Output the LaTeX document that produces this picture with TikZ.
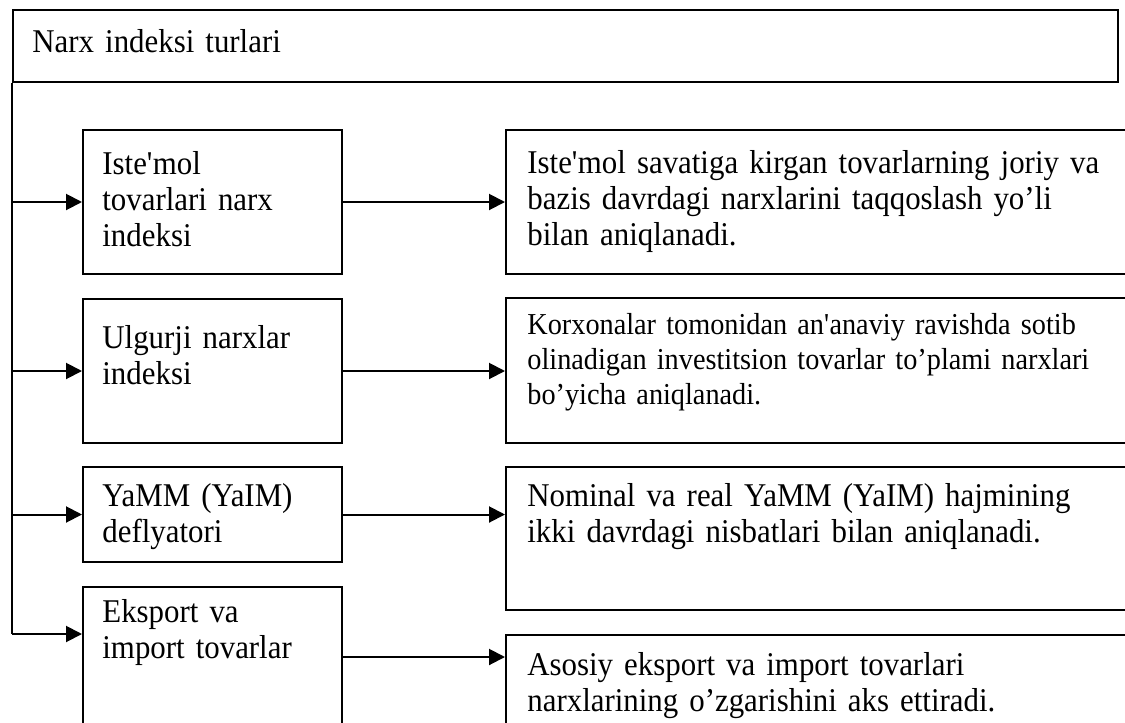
\documentclass[tikz,border=0pt]{standalone}
\usepackage{fontspec}
\setmainfont{Liberation Serif}[FakeStretch=0.93,WordSpace=0.7]
\usetikzlibrary{arrows.meta}
\begin{document}
\begin{tikzpicture}[x=0.5pt,y=-0.5pt,
  box/.style={draw, line width=1pt, rectangle, inner sep=0pt, anchor=north west},
  txt/.style={anchor=base west, inner sep=0pt, text width=320pt, align=left, font=\fontsize{16.6}{18}\selectfont},
  txts/.style={txt, font=\fontsize{15.2}{17.5}\selectfont},
  arr/.style={line width=1pt, -{Triangle[length=8pt,width=8pt]}},
  ln/.style={line width=1pt}]
\useasboundingbox (0,0) rectangle (1125,723);
\fill[white] (0,0) rectangle (1125,723);
\clip (0,0) rectangle (1125,723);
% boxes
\node[box, minimum width=552.5pt, minimum height=36pt] (top) at (12,9) {};
\node[box, minimum width=129.5pt, minimum height=72pt] (L1) at (82,129) {};
\node[box, minimum width=129.5pt, minimum height=72pt] (L2) at (82,298) {};
\node[box, minimum width=129.5pt, minimum height=47.5pt] (L3) at (82,466) {};
\node[box, minimum width=129.5pt, minimum height=87pt] (L4) at (82,586) {};
\node[box, minimum width=317.5pt, minimum height=72pt] (R1) at (505,129) {};
\node[box, minimum width=317.5pt, minimum height=72.5pt] (R2) at (505,297) {};
\node[box, minimum width=317.5pt, minimum height=71.5pt] (R3) at (505,466) {};
\node[box, minimum width=317.5pt, minimum height=73pt] (R4) at (505,634) {};
% texts
\node[txt] (tt) at (32,52) {Narx indeksi turlari};
\node[txt] (t1) at (102,174) {Iste\textquotesingle mol\\ tovarlari narx\\ indeksi};
\node[txt] (t2) at (102,348) {Ulgurji narxlar\\ indeksi};
\node[txt] (t3) at (102,506) {YaMM (YaIM)\\ deflyatori};
\node[txt] (t4) at (102,622) {Eksport va\\ import tovarlar};
\node[txt] (r1t) at (527,173) {Iste\textquotesingle mol savatiga kirgan tovarlarning joriy va\\ bazis davrdagi narxlarini taqqoslash yo’li\\ bilan aniqlanadi.};
\node[txts] (r2t) at (527,334) {Korxonalar tomonidan an\textquotesingle anaviy ravishda sotib\\ olinadigan investitsion tovarlar to’plami narxlari\\ bo’yicha aniqlanadi.};
\node[txt] (r3t) at (527,506) {Nominal va real YaMM (YaIM) hajmining\\ ikki davrdagi nisbatlari bilan aniqlanadi.};
\node[txt] (r4t) at (527,675) {Asosiy eksport va import tovarlari\\ narxlarining o’zgarishini aks ettiradi.};
% connectors
\coordinate (L4in) at ([yshift=-24pt]L4.north west);
\coordinate (L4out) at ([yshift=-35.5pt]L4.north east);
\draw[ln] (top.south west) -- (top.south west |- L4in);
\draw[arr] (top.south west |- L1.west) -- (L1.west);
\draw[arr] (top.south west |- L2.west) -- (L2.west);
\draw[arr] (top.south west |- L3.west) -- (L3.west);
\draw[arr] (top.south west |- L4in) -- (L4in);
\draw[arr] (L1.east) -- (L1.east -| R1.west);
\draw[arr] (L2.east) -- (L2.east -| R2.west);
\draw[arr] (L3.east) -- (L3.east -| R3.west);
\draw[arr] (L4out) -- (L4out -| R4.west);
\end{tikzpicture}
\end{document}
